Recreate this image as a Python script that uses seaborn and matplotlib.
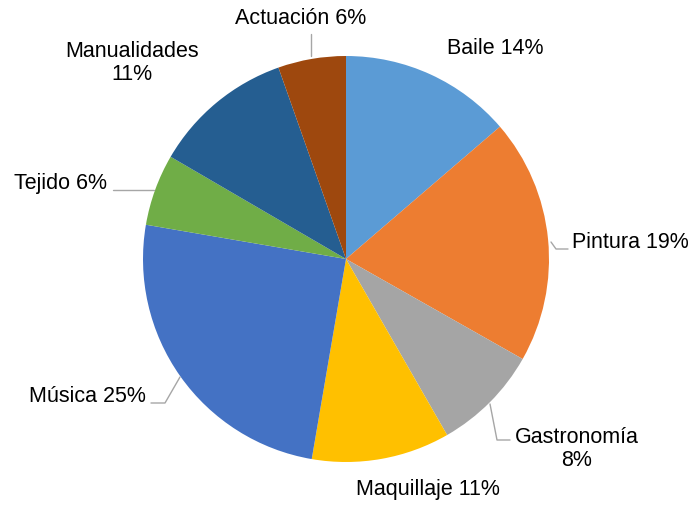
import matplotlib

matplotlib.use("Agg")
import matplotlib.pyplot as plt
import seaborn as sns

# slices, clockwise from 12 o'clock (shares)
categories = ["Baile", "Pintura", "Gastronomía", "Maquillaje", "Música",
              "Tejido", "Manualidades", "Actuación"]
shares = [13.7, 19.5, 8.5, 11.0, 25.0, 5.7, 11.2, 5.4]
slice_colors = ["#5B9BD5", "#ED7D31", "#A5A5A5", "#FFC000", "#4472C4",
                "#70AD47", "#255E91", "#9E480E"]
label_texts = ["Baile 14%", "Pintura 19%", "Gastronomía\n8%", "Maquillaje 11%",
               "Música 25%", "Tejido 6%", "Manualidades\n11%", "Actuación 6%"]

sns.set_theme(style="white")
plt.rcParams["font.family"] = ["Liberation Sans", "DejaVu Sans"]

W, H = 693, 506
CX, CY, R = 346, 260, 203


def to_data(px, py):
    return (px - CX) / R, (CY - py) / R


fig = plt.figure(figsize=(W / 100, H / 100), dpi=100)
ax = fig.add_axes([0, 0, 1, 1])

ax.pie(
    shares,
    colors=sns.color_palette(slice_colors),
    startangle=90,
    counterclock=False,
    radius=1.0,
    wedgeprops={"linewidth": 0},
)
# pie() resets the limits, so set them afterwards
ax.set_xlim(-CX / R, (W - CX) / R)
ax.set_ylim((CY - H) / R, CY / R)
ax.set_aspect("equal")
ax.axis("off")

# label placement in pixels (centre of text) and leader lines
label_pos = [(495, 48), (630, 242), (577, 449), (428, 490),
             (87, 397), (61, 183), (132, 63), (301, 19)]
leaders = {
    1: [(551, 243), (556, 250), (568, 250)],
    2: [(490, 405), (497, 441), (510, 441)],
    4: [(180, 378), (165, 404), (151, 404)],
    5: [(154, 191), (113, 191)],
    7: [(311, 57), (311, 35)],
}

for i, text in enumerate(label_texts):
    x, y = to_data(*label_pos[i])
    ax.text(x, y, text, ha="center", va="center", fontsize=15.5,
            color="#000000", linespacing=1.1)
for pts in leaders.values():
    xs, ys = zip(*(to_data(px, py) for px, py in pts))
    ax.plot(xs, ys, color="#A6A6A6", linewidth=1.0)

fig.savefig("out.png", dpi=100, facecolor="white")
